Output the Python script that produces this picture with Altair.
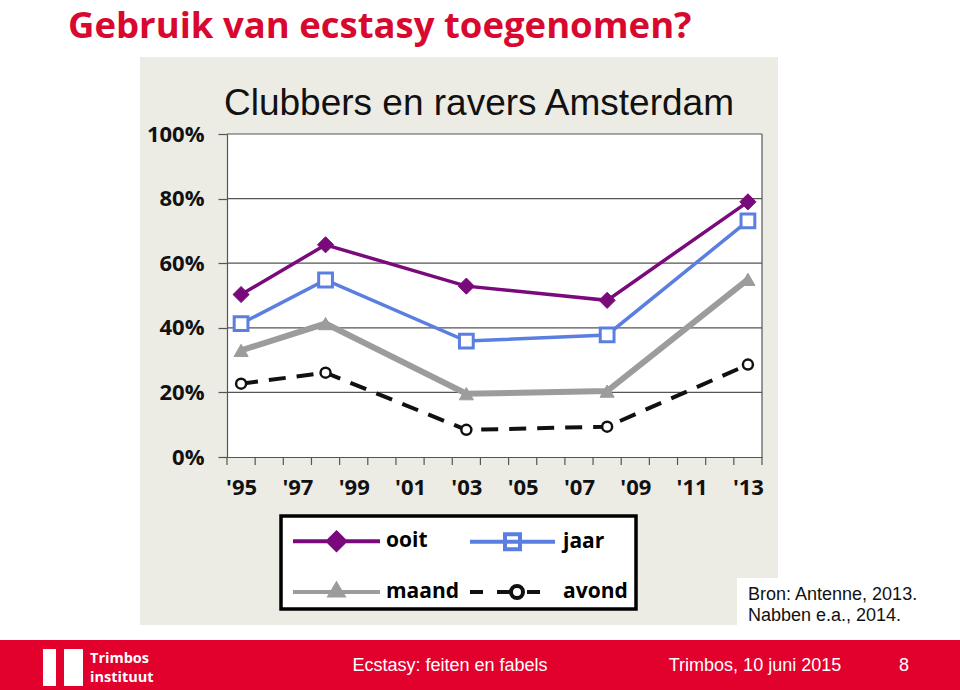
import json
import altair as alt
import pandas as pd

# ---------------- data ----------------
years = [1995, 1998, 2003, 2008, 2013]
series_names = ["ooit", "jaar", "maand", "avond"]
ooit = [50.3, 65.7, 52.9, 48.5, 79.0]
jaar = [41.3, 54.8, 35.9, 37.8, 73.1]
maand = [33.0, 41.3, 19.6, 20.4, 55.0]
avond = [22.7, 26.1, 8.4, 9.4, 28.6]

tick_years = [1995, 1997, 1999, 2001, 2003, 2005, 2007, 2009, 2011, 2013]
tick_labels = ["'95", "'97", "'99", "'01", "'03", "'05", "'07", "'09", "'11", "'13"]
category_edges = [1994.5, 1995.5, 1996.5, 1997.5, 1998.5, 1999.5, 2000.5, 2001.5,
                  2002.5, 2003.5, 2004.5, 2005.5, 2006.5, 2007.5, 2008.5, 2009.5,
                  2010.5, 2011.5, 2012.5, 2013.5]
y_ticks = [0, 20, 40, 60, 80, 100]
grid_values = [20, 40, 60, 80, 100]

slide_title = "Gebruik van ecstasy toegenomen?"
chart_title = "Clubbers en ravers Amsterdam"
source_text = "Bron: Antenne, 2013.\nNabben e.a., 2014."
logo_line1 = "Trimbos"
logo_line2 = "instituut"
footer_center = "Ecstasy: feiten en fabels"
footer_right = "Trimbos, 10 juni 2015"
page_number = "8"

# ---------------- styling ----------------
W, H = 535, 323
PURPLE = "#7a0a7c"
BLUE = "#5a7fe0"
GREY = "#9c9c9c"
BLACK = "#111111"
RED_TITLE = "#d8082f"
RED_BAR = "#e2002d"
BEIGE = "#ecebe4"
AXIS_GREY = "#555555"

rows = []
for name, vals in zip(series_names, [ooit, jaar, maand, avond]):
    for yr, v in zip(years, vals):
        rows.append({"year": yr, "value": v, "series": name})
df = pd.DataFrame(rows)
dummy = pd.DataFrame({"d": [0]})

xscale = alt.Scale(domain=[category_edges[0], category_edges[-1]], nice=False, zero=False)
yscale = alt.Scale(domain=[0, 100], nice=False, zero=True)

labels_js = "[" + ",".join(json.dumps(l) for l in tick_labels) + "]"
years_js = "[" + ",".join(str(y) for y in tick_years) + "]"

xaxis = alt.Axis(values=tick_years, labelExpr=f"{labels_js}[indexof({years_js}, datum.value)]",
                 ticks=False, domain=True, domainColor=AXIS_GREY, domainWidth=1.2,
                 labelPadding=20, labelFont="Open Sans", labelFontWeight="bold",
                 labelFontSize=22, labelColor=BLACK, grid=False, title=None, zindex=1,
                 labelFlush=False, labelOverlap=False)
yaxis = alt.Axis(values=y_ticks, labelExpr="datum.value + '%'", tickSize=9,
                 tickColor=AXIS_GREY, tickWidth=1.2, domainColor=AXIS_GREY, domainWidth=1.2,
                 labelPadding=14, labelFont="Open Sans", labelFontWeight="bold",
                 labelFontSize=22, labelColor=BLACK, grid=False, title=None, zindex=1)


def X(field):
    return alt.X(field, scale=xscale, axis=xaxis)


def Y(field):
    return alt.Y(field, scale=yscale, axis=yaxis)


def rect(x1, x2, y1, y2, color, **kw):
    return alt.Chart(dummy).mark_rect(color=color, **kw).encode(
        x=alt.value(x1), x2=alt.value(x2), y=alt.value(y1), y2=alt.value(y2))


def text(txt, x, y, **kw):
    return alt.Chart(dummy).mark_text(text=txt, **kw).encode(x=alt.value(x), y=alt.value(y))


layers = []
# backgrounds
layers.append(rect(-87, 551, -77, 491, BEIGE))
layers.append(rect(0, W, 0, H, "white"))
layers.append(rect(510, 733, 444, 506, "white"))
layers.append(rect(-227, 733, 506, 556, RED_BAR))
layers.append(rect(-184, -171, 515, 552, "white"))
layers.append(rect(-163, -144, 515, 552, "white"))
# legend box
layers.append(rect(54, 409, 382, 475, "white", stroke="black", strokeWidth=3.5))

# texts
layers.append(text(slide_title, -159, -96, align="left", baseline="alphabetic",
                   font="Open Sans", fontWeight="bold", fontSize=36.5, color=RED_TITLE))
layers.append(text(chart_title, -3, -19, align="left", baseline="alphabetic",
                   font="Liberation Sans", fontSize=37, color=BLACK))
layers.append(text(source_text, 521, 466, align="left", baseline="alphabetic",
                   font="Liberation Sans", fontSize=18, color=BLACK, lineBreak="\n",
                   lineHeight=21))
layers.append(text(logo_line1, -137, 529, align="left", baseline="alphabetic",
                   font="Open Sans", fontWeight="bold", fontSize=14.5, color="white"))
layers.append(text(logo_line2, -137, 548, align="left", baseline="alphabetic",
                   font="Open Sans", fontWeight="bold", fontSize=14.5, color="white"))
layers.append(text(footer_center, 223, 532, align="center", baseline="middle",
                   font="Liberation Sans", fontSize=18, color="white"))
layers.append(text(footer_right, 528, 532, align="center", baseline="middle",
                   font="Liberation Sans", fontSize=18, color="white"))
layers.append(text(page_number, 677, 532, align="center", baseline="middle",
                   font="Liberation Sans", fontSize=18, color="white"))

# gridlines, frame, category ticks
grid_df = pd.DataFrame({"g": grid_values})
layers.append(alt.Chart(grid_df).mark_rule(color=AXIS_GREY, strokeWidth=1.2).encode(
    y=Y("g:Q"), x=alt.value(0), x2=alt.value(W)))
layers.append(alt.Chart(dummy).mark_rule(color=AXIS_GREY, strokeWidth=1.2).encode(
    x=alt.value(W), y=alt.value(0), y2=alt.value(H)))
edge_df = pd.DataFrame({"edge": category_edges})
layers.append(alt.Chart(edge_df).mark_rule(color=AXIS_GREY, strokeWidth=1.2).encode(
    x=X("edge:Q"), y=alt.value(H), y2=alt.value(H + 8)))

# data series
styles = {
    "ooit": dict(line=dict(color=PURPLE, strokeWidth=3.5),
                 point=dict(shape="diamond", size=260, filled=True, fill=PURPLE,
                            stroke=PURPLE, strokeWidth=1)),
    "jaar": dict(line=dict(color=BLUE, strokeWidth=3.5),
                 point=dict(shape="square", size=190, filled=True, fill="white",
                            stroke=BLUE, strokeWidth=3)),
    "maand": dict(line=dict(color=GREY, strokeWidth=6),
                  point=dict(shape="triangle-up", size=200, filled=True, fill=GREY,
                             stroke=GREY, strokeWidth=1)),
    "avond": dict(line=dict(color=BLACK, strokeWidth=4, strokeDash=[17, 11]),
                  point=dict(shape="circle", size=100, filled=True, fill="white",
                             stroke=BLACK, strokeWidth=2.5)),
}
for name in series_names:
    sub = df[df["series"] == name]
    layers.append(alt.Chart(sub).mark_line(**styles[name]["line"]).encode(
        x=X("year:Q"), y=Y("value:Q")))
for name in series_names:
    sub = df[df["series"] == name]
    layers.append(alt.Chart(sub).mark_point(opacity=1, **styles[name]["point"]).encode(
        x=X("year:Q"), y=Y("value:Q")))

# legend (native legend with custom symbol paths)
legend_paths = [
    "M-1,0L7.7,0M3.35,-0.85L4.2,0L3.35,0.85L2.5,0Z",
    "M-1,0L7.5,0M2.5,-0.75L4.0,-0.75L4.0,0.75L2.5,0.75Z",
    "M-1,0L7.7,0M3.35,-0.75L4.0,0.35L2.7,0.35Z",
    "M-1,0L0.3,0M1.7,0L3.1,0M4.3,0A0.6,0.6 0 1,1 3.1,0A0.6,0.6 0 1,1 4.3,0ZM4.7,0L6.0,0",
]
legend_strokes = [PURPLE, BLUE, GREY, BLACK]
legend_fills = [PURPLE, "white", GREY, "white"]

legend = alt.Legend(
    title=None, orient="none", legendX=53, legendY=384, columns=2, direction="horizontal",
    symbolSize=400, symbolStrokeWidth=4, labelOffset=71,
    labelFont="Open Sans", labelFontWeight="bold", labelFontSize=21, labelColor="black",
    padding=11, columnPadding=2, rowPadding=18,
)
layers.append(alt.Chart(df).mark_point(filled=True, opacity=1).encode(
    x=X("year:Q"), y=Y("value:Q"),
    shape=alt.Shape("series:N", scale=alt.Scale(domain=series_names, range=legend_paths),
                    legend=legend),
    stroke=alt.Stroke("series:N", scale=alt.Scale(domain=series_names, range=legend_strokes),
                      legend=legend),
    fill=alt.Fill("series:N", scale=alt.Scale(domain=series_names, range=legend_fills),
                  legend=legend),
).transform_filter("false"))

chart = alt.layer(*layers).properties(
    width=W, height=H,
    padding={"left": 227, "top": 134, "right": 198, "bottom": 233},
    autosize=alt.AutoSizeParams(type="none"),
).configure_view(strokeWidth=0).configure(background="white")

chart.save("out.html", embed_options={"renderer": "svg", "actions": False})
